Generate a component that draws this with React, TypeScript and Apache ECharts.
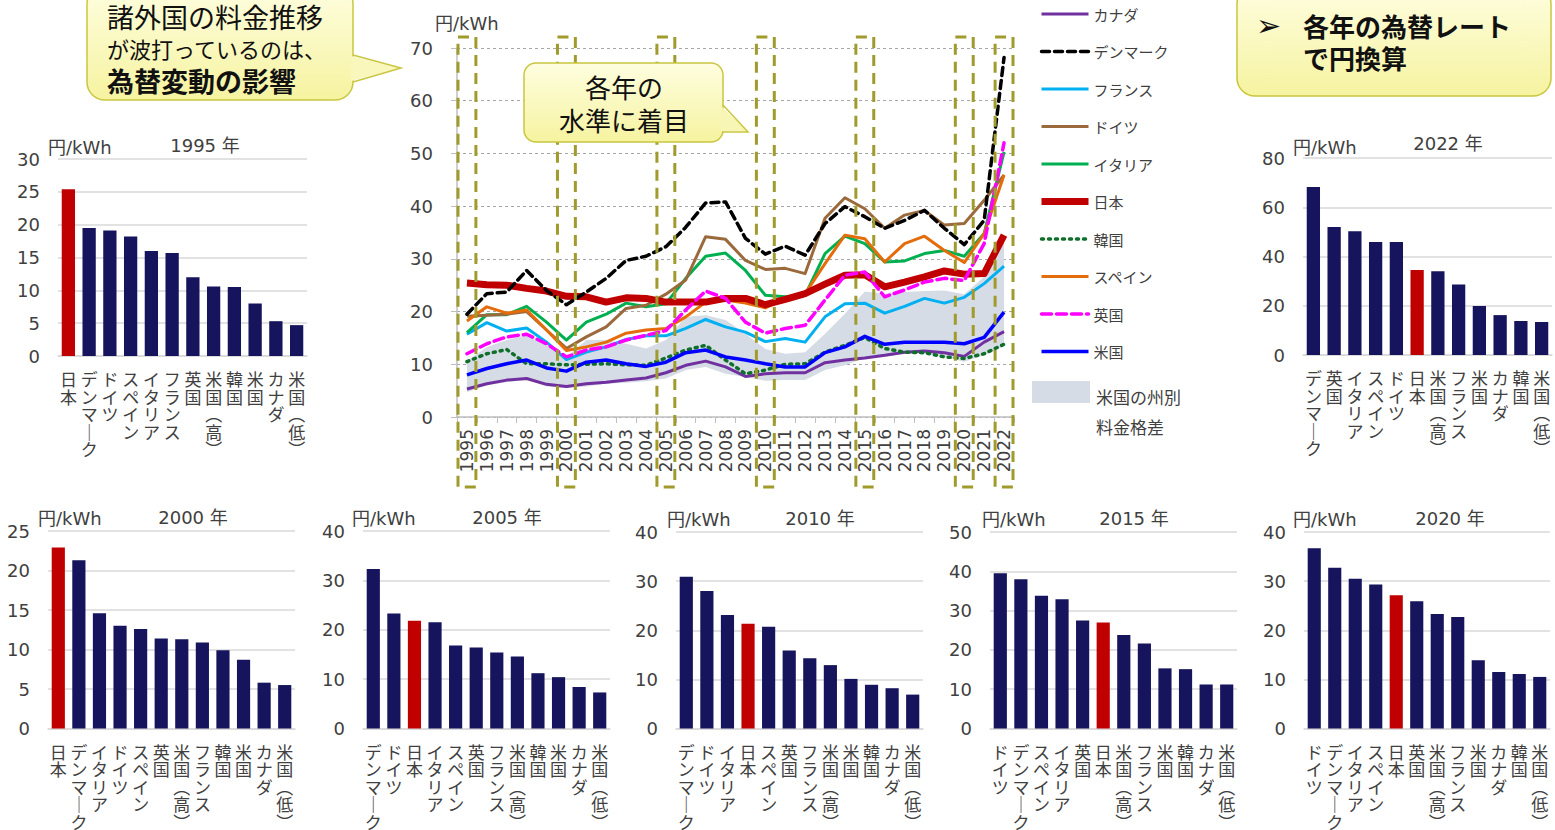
import React, { useEffect, useRef } from "react";
import * as echarts from "echarts";

// ---- time series (円/kWh, converted at each year's exchange rate) ----
const years = [
  "1995", "1996", "1997", "1998", "1999", "2000", "2001", "2002", "2003", "2004",
  "2005", "2006", "2007", "2008", "2009", "2010", "2011", "2012", "2013", "2014",
  "2015", "2016", "2017", "2018", "2019", "2020", "2021", "2022",
];
const canada = [5.3, 6.3, 7.0, 7.3, 6.2, 5.8, 6.3, 6.6, 7.0, 7.4, 8.4, 9.8, 10.6, 9.5, 7.7, 8.2, 8.4, 8.4, 10.3, 10.8, 11.2, 11.7, 12.3, 12.5, 12.2, 11.5, 14.2, 16.2];
const denmark = [19.5, 23.4, 23.7, 27.8, 24.0, 21.3, 23.7, 26.3, 29.7, 30.5, 32.3, 36.0, 40.6, 40.8, 33.9, 30.9, 32.4, 30.7, 36.7, 39.9, 38.0, 35.8, 37.3, 39.2, 35.8, 32.7, 37.3, 68.2];
const france = [15.7, 17.9, 16.3, 16.9, 14.2, 10.9, 12.3, 13.3, 14.7, 15.4, 15.4, 16.8, 18.5, 17.1, 16.1, 14.3, 14.9, 14.2, 19.0, 21.5, 21.6, 19.7, 21.0, 22.5, 21.6, 22.7, 25.3, 28.6];
const germany = [19.1, 19.3, 19.5, 20.0, 16.5, 13.0, 15.2, 17.1, 20.6, 21.2, 23.3, 26.0, 34.2, 33.7, 29.7, 28.0, 28.2, 27.2, 37.7, 41.6, 39.5, 35.8, 38.3, 39.2, 36.4, 36.7, 41.1, 45.9];
const italy = [16.0, 19.4, 19.4, 21.0, 18.0, 14.6, 18.0, 19.5, 21.6, 20.9, 21.5, 26.3, 30.5, 31.1, 27.8, 23.1, 22.8, 23.1, 31.0, 34.3, 32.9, 29.4, 29.6, 31.0, 31.6, 30.5, 34.8, 50.3];
const japan = [25.4, 25.1, 25.0, 24.4, 23.9, 22.9, 22.8, 21.8, 22.6, 22.5, 21.8, 21.8, 21.8, 22.5, 22.5, 21.3, 22.3, 23.4, 25.2, 26.9, 27.0, 24.7, 25.6, 26.6, 27.7, 27.1, 27.2, 34.5];
const korea = [10.5, 12.0, 12.8, 10.1, 10.1, 9.9, 10.0, 10.1, 9.9, 9.8, 11.2, 12.7, 13.6, 10.8, 8.2, 8.9, 10.0, 10.1, 12.3, 13.6, 15.1, 13.0, 12.3, 12.2, 11.4, 11.1, 12.0, 13.8];
const spain = [18.2, 20.9, 19.7, 20.3, 16.5, 12.6, 13.3, 14.2, 15.9, 16.5, 16.8, 19.0, 21.8, 22.2, 21.6, 20.7, 22.5, 23.4, 29.1, 34.5, 33.8, 29.4, 32.9, 34.3, 31.6, 29.3, 34.8, 45.9];
const uk = [12.0, 13.9, 15.2, 15.7, 13.9, 11.4, 12.7, 13.3, 14.6, 15.5, 16.4, 20.3, 23.9, 22.5, 18.0, 15.9, 16.8, 17.4, 22.2, 26.9, 27.5, 22.8, 24.1, 25.6, 26.3, 25.9, 32.9, 52.0];
const usa = [8.0, 9.2, 10.1, 10.8, 9.3, 8.7, 10.4, 10.8, 10.1, 9.6, 10.4, 12.2, 12.7, 11.4, 10.8, 10.1, 9.5, 9.5, 12.2, 13.3, 15.3, 13.8, 14.2, 14.2, 14.2, 13.9, 15.1, 19.9];
// state-level spread of US tariffs (highest / lowest state)
const usHigh = [10.6, 13.3, 14.6, 15.5, 13.6, 11.3, 14.6, 14.6, 13.9, 13.0, 14.6, 19.0, 19.3, 18.4, 15.8, 12.9, 12.0, 12.3, 15.8, 19.6, 23.8, 23.4, 23.7, 23.9, 24.0, 23.3, 26.6, 34.0];
const usLow = [4.7, 6.0, 6.6, 7.0, 5.8, 5.5, 5.8, 6.3, 6.5, 6.8, 7.3, 8.9, 9.5, 8.2, 7.6, 6.9, 7.0, 7.0, 8.9, 9.8, 11.2, 11.4, 12.0, 12.0, 11.4, 10.5, 11.7, 13.4];
const focusYears = ["1995", "2000", "2005", "2010", "2015", "2020", "2022"];

// ---- ranked snapshots ----
const cats1995 = ["日本", "デンマーク", "ドイツ", "スペイン", "イタリア", "フランス", "英国", "米国（高）", "韓国", "米国", "カナダ", "米国（低）"];
const vals1995 = [25.4, 19.5, 19.1, 18.2, 16.0, 15.7, 12.0, 10.6, 10.5, 8.0, 5.3, 4.7];
const cats2000 = ["日本", "デンマーク", "イタリア", "ドイツ", "スペイン", "英国", "米国（高）", "フランス", "韓国", "米国", "カナダ", "米国（低）"];
const vals2000 = [22.9, 21.3, 14.6, 13.0, 12.6, 11.4, 11.3, 10.9, 9.9, 8.7, 5.8, 5.5];
const cats2005 = ["デンマーク", "ドイツ", "日本", "イタリア", "スペイン", "英国", "フランス", "米国（高）", "韓国", "米国", "カナダ", "米国（低）"];
const vals2005 = [32.3, 23.3, 21.8, 21.5, 16.8, 16.4, 15.4, 14.6, 11.2, 10.4, 8.4, 7.3];
const cats2010 = ["デンマーク", "ドイツ", "イタリア", "日本", "スペイン", "英国", "フランス", "米国（高）", "米国", "韓国", "カナダ", "米国（低）"];
const vals2010 = [30.9, 28.0, 23.1, 21.3, 20.7, 15.9, 14.3, 12.9, 10.1, 8.9, 8.2, 6.9];
const cats2015 = ["ドイツ", "デンマーク", "スペイン", "イタリア", "英国", "日本", "米国（高）", "フランス", "米国", "韓国", "カナダ", "米国（低）"];
const vals2015 = [39.5, 38.0, 33.8, 32.9, 27.5, 27.0, 23.8, 21.6, 15.3, 15.1, 11.2, 11.2];
const cats2020 = ["ドイツ", "デンマーク", "イタリア", "スペイン", "日本", "英国", "米国（高）", "フランス", "米国", "カナダ", "韓国", "米国（低）"];
const vals2020 = [36.7, 32.7, 30.5, 29.3, 27.1, 25.9, 23.3, 22.7, 13.9, 11.5, 11.1, 10.5];
const cats2022 = ["デンマーク", "英国", "イタリア", "スペイン", "ドイツ", "日本", "米国（高）", "フランス", "米国", "カナダ", "韓国", "米国（低）"];
const vals2022 = [68.2, 52.0, 50.3, 45.9, 45.9, 34.5, 34.0, 28.6, 19.9, 16.2, 13.8, 13.4];

// ---- styling ----
const FONT = "'DejaVu Sans', 'Noto Sans CJK JP', sans-serif";
const JP = "'Noto Sans CJK JP', sans-serif";
const TXT = "#404040";
const NAVY = "#15145c";
const RED = "#c00000";
const GRIDC = "#d9d9d9";
const OLIVE = "#a09b2c";
const BORDER = "#c9c640";

const panels = [
  { year: "1995", cats: cats1995, vals: vals1995, max: 30, step: 5, left: 58, top: 159, width: 249, height: 197, tx: 205, ty: 145, ux: 48, uy: 147 },
  { year: "2022", cats: cats2022, vals: vals2022, max: 80, step: 20, left: 1303, top: 158, width: 249, height: 197, tx: 1448, ty: 143, ux: 1293, uy: 147 },
  { year: "2000", cats: cats2000, vals: vals2000, max: 25, step: 5, left: 48, top: 531, width: 247, height: 198, tx: 193, ty: 517, ux: 38, uy: 518 },
  { year: "2005", cats: cats2005, vals: vals2005, max: 40, step: 10, left: 363, top: 531, width: 247, height: 198, tx: 507, ty: 517, ux: 352, uy: 518 },
  { year: "2010", cats: cats2010, vals: vals2010, max: 40, step: 10, left: 676, top: 532, width: 247, height: 197, tx: 820, ty: 518, ux: 667, uy: 519 },
  { year: "2015", cats: cats2015, vals: vals2015, max: 50, step: 10, left: 990, top: 532, width: 247, height: 197, tx: 1134, ty: 518, ux: 982, uy: 519 },
  { year: "2020", cats: cats2020, vals: vals2020, max: 40, step: 10, left: 1304, top: 532, width: 246, height: 197, tx: 1450, ty: 518, ux: 1293, uy: 519 },
];

const lines = [
  { name: "カナダ", data: canada, color: "#7030a0", width: 3, dash: "solid" as any },
  { name: "韓国", data: korea, color: "#0f6e2a", width: 3.5, dash: [2, 5] },
  { name: "米国", data: usa, color: "#0000ff", width: 3.5, dash: "solid" },
  { name: "フランス", data: france, color: "#00b0f0", width: 3, dash: "solid" },
  { name: "イタリア", data: italy, color: "#00b050", width: 3, dash: "solid" },
  { name: "ドイツ", data: germany, color: "#9b6a3c", width: 3, dash: "solid" },
  { name: "スペイン", data: spain, color: "#e46c0a", width: 3, dash: "solid" },
  { name: "日本", data: japan, color: RED, width: 7, dash: "solid" },
  { name: "英国", data: uk, color: "#ff00ff", width: 3.5, dash: [10, 5] },
  { name: "デンマーク", data: denmark, color: "#000000", width: 3.5, dash: [8, 5] },
];
const legendOrder = ["カナダ", "デンマーク", "フランス", "ドイツ", "イタリア", "日本", "韓国", "スペイン", "英国", "米国"];

const verticalLabel = (v: string) =>
  v.replace(/（/g, "︵").replace(/）/g, "︶").replace(/ー/g, "｜").split("").join("\n");

function yellow() {
  return new echarts.graphic.LinearGradient(0, 0, 0, 1, [
    { offset: 0, color: "#fefee0" },
    { offset: 1, color: "#f6f3a0" },
  ]);
}

function text(x: number, y: number, t: string, size: number, opts: any = {}) {
  return {
    type: "text",
    x,
    y,
    z: 100,
    silent: true,
    style: {
      text: t,
      fontSize: size,
      fontFamily: opts.family || FONT,
      fontWeight: opts.weight || "normal",
      fill: opts.color || TXT,
      align: opts.align || "left",
      verticalAlign: "middle",
    },
  };
}

function buildOption() {
  const grids: any[] = [{ left: 457, top: 48, width: 557, height: 369 }];
  const xAxes: any[] = [
    {
      type: "category",
      gridIndex: 0,
      data: years,
      boundaryGap: true,
      axisLine: { lineStyle: { color: "#bfbfbf", width: 1.5 } },
      axisTick: { show: true, length: 6, lineStyle: { color: "#bfbfbf" } },
      axisLabel: { rotate: 90, fontSize: 17, color: TXT, fontFamily: FONT, margin: 12, interval: 0 },
    },
  ];
  const yAxes: any[] = [
    {
      type: "value",
      gridIndex: 0,
      min: 0,
      max: 70,
      interval: 10,
      axisLine: { show: true, lineStyle: { color: "#bfbfbf", width: 1.5 } },
      axisTick: { show: true, length: 6, lineStyle: { color: "#bfbfbf" } },
      axisLabel: { fontSize: 18, color: TXT, fontFamily: FONT, margin: 24 },
      splitLine: { lineStyle: { color: "#a6a6a6", type: [3, 3], width: 1 } },
    },
  ];

  const series: any[] = [
    {
      type: "line",
      name: "usLowEdge",
      xAxisIndex: 0,
      yAxisIndex: 0,
      data: usLow,
      stack: "usSpread",
      symbol: "none",
      silent: true,
      lineStyle: { width: 0, opacity: 0 },
      z: 1,
    },
    {
      type: "line",
      name: "usSpread",
      xAxisIndex: 0,
      yAxisIndex: 0,
      data: usHigh.map((h, i) => Math.round((h - usLow[i]) * 100) / 100),
      stack: "usSpread",
      symbol: "none",
      silent: true,
      lineStyle: { width: 0, opacity: 0 },
      areaStyle: { color: "#d6dce5", opacity: 1 },
      z: 1,
    },
  ];

  lines.forEach((l) => {
    series.push({
      type: "line",
      name: l.name,
      xAxisIndex: 0,
      yAxisIndex: 0,
      data: l.data,
      symbol: "none",
      color: l.color,
      lineStyle: { color: l.color, width: l.width, type: l.dash, cap: l.dash === "solid" ? "butt" : "round", join: "round" },
      z: 3,
    });
  });

  // dashed frames marking the years picked out below
  series.push({
    type: "custom",
    name: "focus",
    xAxisIndex: 0,
    yAxisIndex: 0,
    data: focusYears.map((y) => [years.indexOf(y), 0]),
    encode: { x: 0, y: 1 },
    clip: false,
    silent: true,
    z: 10,
    renderItem: (params: any, api: any) => {
      const base = api.coord([api.value(0), 0]);
      const top = api.coord([api.value(0), 70]);
      const w = api.size([1, 0])[0];
      return {
        type: "rect",
        shape: { x: base[0] - w / 2 + 1, y: top[1] - 11, width: w - 2, height: base[1] - top[1] + 81 },
        style: { fill: "none", stroke: OLIVE, lineWidth: 3, lineDash: [11, 7] },
      };
    },
  });

  const graphics: any[] = [];

  panels.forEach((p, k) => {
    const gi = k + 1;
    grids.push({ left: p.left, top: p.top, width: p.width, height: p.height });
    xAxes.push({
      type: "category",
      gridIndex: gi,
      data: p.cats,
      axisLine: { lineStyle: { color: GRIDC, width: 1.5 } },
      axisTick: { show: false },
      axisLabel: {
        interval: 0,
        formatter: verticalLabel,
        fontSize: 17,
        lineHeight: 17.5,
        color: TXT,
        fontFamily: JP,
        margin: 14,
        verticalAlign: "top",
      },
    });
    yAxes.push({
      type: "value",
      gridIndex: gi,
      min: 0,
      max: p.max,
      interval: p.step,
      axisLine: { show: false },
      axisTick: { show: false },
      axisLabel: { fontSize: 18, color: TXT, fontFamily: FONT, margin: 18 },
      splitLine: { lineStyle: { color: GRIDC, width: 1.5 } },
    });
    series.push({
      type: "bar",
      name: "bars" + p.year,
      xAxisIndex: gi,
      yAxisIndex: gi,
      barWidth: "64%",
      silent: true,
      data: p.vals.map((v, i) => ({ value: v, itemStyle: { color: p.cats[i] === "日本" ? RED : NAVY } })),
    });
    graphics.push(text(p.tx, p.ty, p.year + " 年", 18, { align: "center" }));
    graphics.push(text(p.ux, p.uy, "円/kWh", 18));
  });

  // main chart unit
  graphics.push(text(435, 23, "円/kWh", 18));

  // spread legend entry
  graphics.push({
    type: "rect",
    shape: { x: 1032, y: 381, width: 58, height: 22 },
    style: { fill: "#d6dce5" },
    silent: true,
  });
  graphics.push(text(1096, 396, "米国の州別", 17, { family: JP }));
  graphics.push(text(1096, 426, "料金格差", 17, { family: JP }));

  // callout: exchange-rate note (top left)
  graphics.push({
    type: "rect",
    z: 90,
    silent: true,
    shape: { x: 87, y: -14, width: 266, height: 114, r: 18 },
    style: { fill: yellow(), stroke: BORDER, lineWidth: 1.5 },
  });
  graphics.push({
    type: "polygon",
    z: 91,
    silent: true,
    shape: { points: [[351, 56], [400, 68], [351, 81]] },
    style: { fill: "#f9f7bb" },
  });
  graphics.push({
    type: "polyline",
    z: 92,
    silent: true,
    shape: { points: [[353, 55], [401, 68], [353, 82]] },
    style: { fill: "none", stroke: BORDER, lineWidth: 1.5 },
  });
  graphics.push(text(107, 16, "諸外国の料金推移", 27, { family: JP, color: "#111" }));
  graphics.push(text(107, 48, "が波打っているのは、", 22, { family: JP, color: "#111" }));
  graphics.push(text(107, 80, "為替変動の影響", 27, { family: JP, color: "#111", weight: "bold" }));

  // callout: focus on levels (middle)
  graphics.push({
    type: "rect",
    z: 90,
    silent: true,
    shape: { x: 524, y: 63, width: 199, height: 79, r: 12 },
    style: { fill: yellow(), stroke: BORDER, lineWidth: 1.5 },
  });
  graphics.push({
    type: "polygon",
    z: 91,
    silent: true,
    shape: { points: [[721, 106], [747, 131], [721, 131]] },
    style: { fill: "#f8f6b4" },
  });
  graphics.push({
    type: "polyline",
    z: 92,
    silent: true,
    shape: { points: [[723, 105], [748, 132], [722, 132]] },
    style: { fill: "none", stroke: BORDER, lineWidth: 1.5 },
  });
  graphics.push(text(624, 86, "各年の", 26, { family: JP, align: "center", color: "#111" }));
  graphics.push(text(624, 119, "水準に着目", 26, { family: JP, align: "center", color: "#111" }));

  // callout: conversion note (top right)
  graphics.push({
    type: "rect",
    z: 90,
    silent: true,
    shape: { x: 1237, y: -14, width: 314, height: 110, r: 18 },
    style: { fill: yellow(), stroke: BORDER, lineWidth: 1.5 },
  });
  graphics.push(text(1256, 25, "➢", 30, { family: "'DejaVu Sans', sans-serif", color: "#111" }));
  graphics.push(text(1303, 25, "各年の為替レート", 26, { family: JP, weight: "bold", color: "#111" }));
  graphics.push(text(1303, 57, "で円換算", 26, { family: JP, weight: "bold", color: "#111" }));

  return {
    animation: false,
    backgroundColor: "#ffffff",
    textStyle: { fontFamily: FONT },
    grid: grids,
    xAxis: xAxes,
    yAxis: yAxes,
    legend: {
      data: legendOrder,
      orient: "vertical",
      left: 1038,
      top: 6,
      padding: 0,
      itemWidth: 47,
      itemHeight: 16,
      itemGap: 21.5,
      selectedMode: false,
      itemStyle: { color: "rgba(0,0,0,0)", borderWidth: 0, opacity: 0 },
      lineStyle: { width: "inherit", type: "inherit", color: "inherit" },
      textStyle: { fontSize: 15, lineHeight: 16, color: TXT, fontFamily: JP },
    },
    series,
    graphic: graphics,
  };
}

export default function App() {
  const ref = useRef<HTMLDivElement>(null);
  useEffect(() => {
    if (!ref.current) return;
    const chart = echarts.init(ref.current, null, { renderer: "svg" });
    chart.setOption(buildOption() as any);
    return () => chart.dispose();
  }, []);
  return (
    <div
      ref={ref}
      style={{ position: "absolute", left: 0, top: 0, width: 1555, height: 830, background: "#fff" }}
    />
  );
}
